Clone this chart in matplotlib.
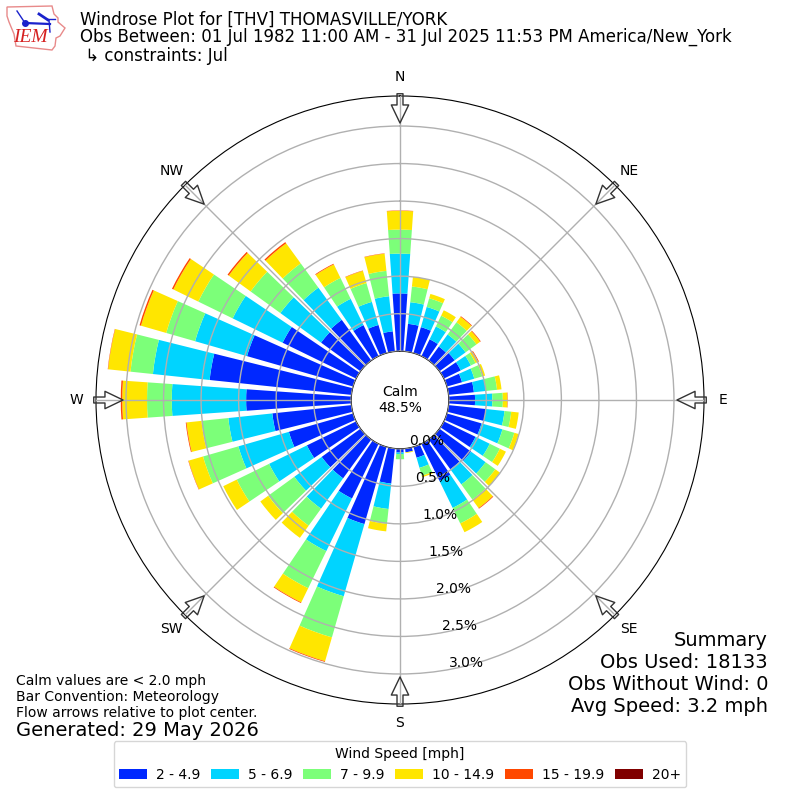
import numpy as np
import matplotlib
matplotlib.use("Agg")
import matplotlib.pyplot as plt
from matplotlib.patches import Polygon

# percent of obs per 10 degree bin, starting at N and going clockwise
directions = list(range(0, 360, 10))
speed_labels = ["2 - 4.9", "5 - 6.9", "7 - 9.9", "10 - 14.9", "15 - 19.9", "20+"]
speed_colors = ["#0028ff", "#00d4ff", "#7cff79", "#ffe600", "#ff4800", "#800000"]

s2_5 = [.77, .37, .36, .25, .23, .25, .25, .21, .34, .35, .50, .48, .47, .52, .49, .55, .15, .05,
        .05, .47, 1.07, .81, .64, .64, .73, .89, 1.06, 1.40, 1.90, 1.47, 1.09, .65, .67, .46, .39, .27]
s5_7 = [.53, .29, .28, .19, .20, .18, .15, .17, .16, .23, .25, .29, .21, .24, .25, .40, .14, 0,
        .02, .34, 1.0, .78, .50, .45, .56, .70, .59, .99, .76, .72, .74, .67, .53, .39, .32, .47]
s7_10 = [.32, .21, .12, .16, .20, .18, .07, .11, .15, .14, .09, .165, .15, .16, .25, .23, .11, 0,
         .07, .20, .57, .55, .28, .43, .48, .49, .36, .33, .30, .40, .51, .49, .40, .31, .26, .34]
s10_15 = [.25, .13, .06, .08, .09, .06, .04, .04, .06, .06, .10, .06, .09, .08, .14, .13, .02, .01,
          0, .10, .33, .21, .20, .13, .20, .20, .20, .33, .30, .35, .37, .36, .33, .20, .17, .23]
s15_20 = [.005, 0, 0, 0, .01, .01, .01, 0, 0, .005, 0, 0, 0, 0, .01, 0, 0, 0,
          0, 0, .01, .01, 0, 0, 0, .005, .01, .02, .005, .02, .02, .02, .02, .01, .005, .005]
s20_up = [0] * 36
series = [s2_5, s5_7, s7_10, s10_15, s15_20, s20_up]

r_ticks = [0, 0.5, 1.0, 1.5, 2.0, 2.5, 3.0]
compass = ["N", "NE", "E", "SE", "S", "SW", "W", "NW"]
compass_deg = [0, 45, 90, 135, 180, 225, 270, 315]

fig = plt.figure(figsize=(8, 8), dpi=100)
ax = fig.add_axes([0.12, 0.12, 0.76, 0.76], projection="polar")
ax.set_theta_zero_location("N")
ax.set_theta_direction(-1)

theta = np.radians(directions)
bottom = np.zeros(36)
for vals, lab, col in zip(series, speed_labels, speed_colors):
    ax.bar(theta, vals, width=np.radians(8), bottom=bottom, color=col, label=lab, linewidth=0)
    bottom = bottom + np.array(vals)

ax.set_rorigin(-0.65)
ax.set_ylim(0, 3.4)
ax.set_axisbelow(False)
ax.grid(True, color="#b0b0b0", lw=1)
ax.set_yticks(r_ticks)
ax.set_yticklabels(["%.1f%%" % v for v in r_ticks], fontsize=10)
ax.set_rlabel_position(169.7)
ax.set_xticks(np.radians(compass_deg))
ax.set_xticklabels(compass, fontsize=10)
ax.tick_params(axis="x", pad=3.5)

# flow arrows on the rim
for d in compass_deg:
    ax.annotate("", xy=(np.radians(d), 3.04), xytext=(np.radians(d), 3.43),
                annotation_clip=False,
                arrowprops=dict(arrowstyle="simple,head_length=1.3,head_width=1.25,tail_width=0.43",
                                fc="none", ec="#333333", lw=1, shrinkA=0, shrinkB=0,
                                mutation_scale=10))

ax.text(0, -0.65, "Calm\n48.5%", ha="center", va="center", fontsize=10)

# header
fig.text(0.1, 0.9755, "Windrose Plot for [THV] THOMASVILLE/YORK", fontsize=12, va="center")
fig.text(0.1, 0.9535, "Obs Between: 01 Jul 1982 11:00 AM - 31 Jul 2025 11:53 PM America/New_York",
         fontsize=12, va="center")
fig.text(0.1, 0.93, " \u21b3 constraints: Jul", fontsize=12, va="center")

# footer notes
fig.text(0.02, 0.149, "Calm values are < 2.0 mph", fontsize=10, va="center")
fig.text(0.02, 0.129, "Bar Convention: Meteorology", fontsize=10, va="center")
fig.text(0.02, 0.109, "Flow arrows relative to plot center.", fontsize=10, va="center")
fig.text(0.02, 0.087, "Generated: 29 May 2026", fontsize=14, va="center")

fig.text(0.96, 0.2, "Summary", fontsize=14, ha="right", va="center")
fig.text(0.96, 0.172, "Obs Used: 18133", fontsize=14, ha="right", va="center")
fig.text(0.96, 0.145, "Obs Without Wind: 0", fontsize=14, ha="right", va="center")
fig.text(0.96, 0.117, "Avg Speed: 3.2 mph", fontsize=14, ha="right", va="center")

fig.legend(*ax.get_legend_handles_labels(), loc="lower center", bbox_to_anchor=(0.5, 0.007),
           ncol=6, title="Wind Speed [mph]", fontsize=10, title_fontsize=10,
           columnspacing=0.78, handletextpad=0.65)

# IEM logo
logo = fig.add_axes([0, 0.93, 0.085, 0.07])
logo.set_xlim(0, 68)
logo.set_ylim(56, 0)
logo.axis("off")
iowa = [(7, 7), (52, 6), (54, 14), (58, 18), (58, 22), (65, 28), (60, 36), (56, 38),
        (55, 46), (52, 50), (16, 46), (14, 34), (9, 22), (7, 16)]
logo.add_patch(Polygon(iowa, closed=True, fc="white", ec="#e88a8a", lw=1))
logo.plot([25, 50], [23, 24], color="#1a22cc", lw=1.6)
logo.plot([17, 25], [11, 23], color="#1a22cc", lw=1)
logo.plot([39, 48], [14, 20], color="#1a22cc", lw=2)
logo.plot([47, 55], [19, 19], color="#1a22cc", lw=1)
logo.plot([49, 50], [20, 32], color="#1a22cc", lw=1)
logo.plot([25], [23], "o", color="#1a22cc", ms=4)
logo.text(30, 38, "IEM", color="#d62020", fontsize=14, family="Liberation Serif", style="italic",
          ha="center", va="center")

fig.savefig("out.png", dpi=100)
